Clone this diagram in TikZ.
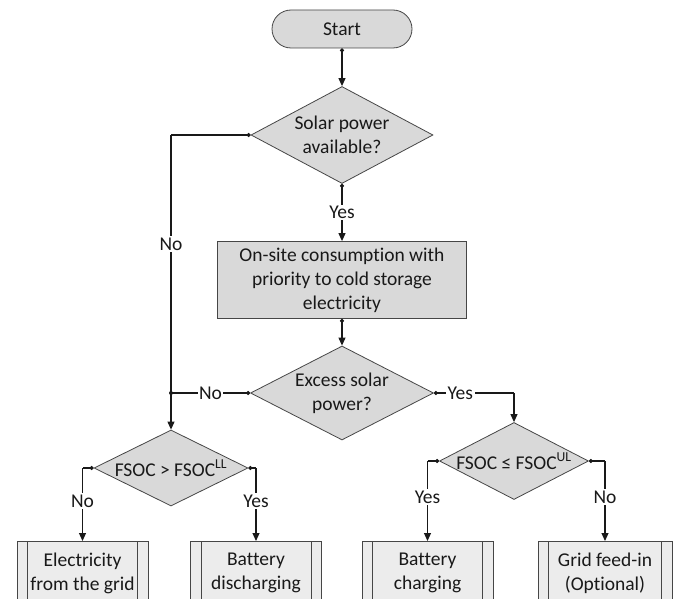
\documentclass[tikz,border=0pt]{standalone}
\usepackage{fontspec}
\setmainfont{Carlito}[Ligatures={NoCommon}]
\usetikzlibrary{shapes.geometric,arrows.meta}
\definecolor{boxfill}{RGB}{217,217,217}
\definecolor{pfill}{RGB}{236,236,236}
\definecolor{boxline}{RGB}{70,70,70}
\definecolor{conn}{RGB}{25,25,25}
\begin{document}
\begin{tikzpicture}[x=1pt,y=-1pt,
  every node/.style={font=\fontsize{19.5}{24}\selectfont, text=black!90},
  shapebox/.style={draw=boxline, fill=boxfill, line width=0.8pt},
  dia/.style={shapebox, shape=diamond, inner sep=0pt},
  txt/.style={align=center, inner sep=0pt},
  flow/.style={draw=conn, line width=1.1pt, {Circle[length=4pt]}-{Triangle[length=8pt,width=7pt]}},
  flowline/.style={draw=conn, line width=1.1pt, {Circle[length=4pt]}-},
  flowarrow/.style={draw=conn, line width=1.1pt, -{Triangle[length=8pt,width=7pt]}},
  lab/.style={fill=white, inner sep=1.5pt}
]
\useasboundingbox (0,0) rectangle (673,599);
\clip (0,0) rectangle (673,599);
% Start
\node[shapebox, rounded corners=19pt, minimum width=140pt, minimum height=38pt] (start) at (342,29) {Start};
% Decision 1
\node[dia, minimum width=182pt, minimum height=97pt] (d1) at (342,135) {};
\node[txt] (d1t) at (d1.center) {Solar power\\available?};
% Process
\node[shapebox, minimum width=249pt, minimum height=77pt, align=center, inner sep=0pt] (proc) at (342,280) {On-site consumption with\\priority to cold storage\\electricity};
% Decision 2
\node[dia, minimum width=183pt, minimum height=94pt] (d2) at (342,393) {};
\node[txt] (d2t) at (d2.center) {Excess solar\\power?};
% Decision 3
\node[dia, minimum width=149pt, minimum height=77pt] (d3) at (514,461) {};
\node[txt] (d3t) at (d3.center) {FSOC ≤ FSOC\textsuperscript{UL}};
% Decision 4
\node[dia, minimum width=154pt, minimum height=76pt] (d4) at (171,468) {};
\node[txt] (d4t) at (d4.center) {FSOC > FSOC\textsuperscript{LL}};
% Predefined process boxes
\tikzset{pbox/.style={shapebox, fill=pfill, minimum width=131pt, minimum height=64pt, anchor=north, align=center, inner sep=0pt}}
\node[pbox] (b1) at (82.5,541) {Electricity\\from the grid};
\node[pbox] (b2) at (256,541) {Battery\\discharging};
\node[pbox] (b3) at (427.5,541) {Battery\\charging};
\node[pbox, minimum width=134pt] (b4) at (605,541) {Grid feed-in\\(Optional)};
\foreach \b in {b1,b2,b3,b4}{
  \draw[boxline, line width=0.8pt] ([xshift=11pt]\b.north west) -- ([xshift=11pt]\b.south west);
  \draw[boxline, line width=0.8pt] ([xshift=-11pt]\b.north east) -- ([xshift=-11pt]\b.south east);
}
% Connectors
\draw[flow] (start.south) -- (d1.north);
\draw[flow] (d1.south) -- node[lab] (yes1) {Yes} (proc.north);
\draw[flow] (proc.south) -- (d2.north);
\coordinate (c1) at (171,135);
\coordinate (j1) at (171,393);
\draw[flowline] (d1.west) -- (c1);
\draw[flowarrow] (c1) -- node[lab, pos=0.37] (no1) {No} (d4.north);
\draw[flowline] (d2.west) -- node[lab, pos=0.5] (no2) {No} (j1);
\fill[conn] (j1) circle (2pt);
\coordinate (c2) at (514,393);
\draw[flowline] (d2.east) -- node[lab, pos=0.33] (yes2) {Yes} (c2);
\draw[flowarrow] (c2) -- (d3.north);
% Decision 4 branches
\coordinate (c3) at (82.5,468);
\coordinate (c4) at (256,468);
\draw[flowline] (d4.west) -- (c3);
\draw[flowarrow] (c3) -- node[lab, pos=0.45] (no3) {No} (b1.north);
\draw[flowline] (d4.east) -- (c4);
\draw[flowarrow] (c4) -- node[lab, pos=0.45] (yes3) {Yes} (b2.north);
% Decision 3 branches
\coordinate (c5) at (427.5,461);
\coordinate (c6) at (605,461);
\draw[flowline] (d3.west) -- (c5);
\draw[flowarrow] (c5) -- node[lab, pos=0.45] (yes4) {Yes} (b3.north);
\draw[flowline] (d3.east) -- (c6);
\draw[flowarrow] (c6) -- node[lab, pos=0.45] (no4) {No} (b4.north);
\end{tikzpicture}
\end{document}
